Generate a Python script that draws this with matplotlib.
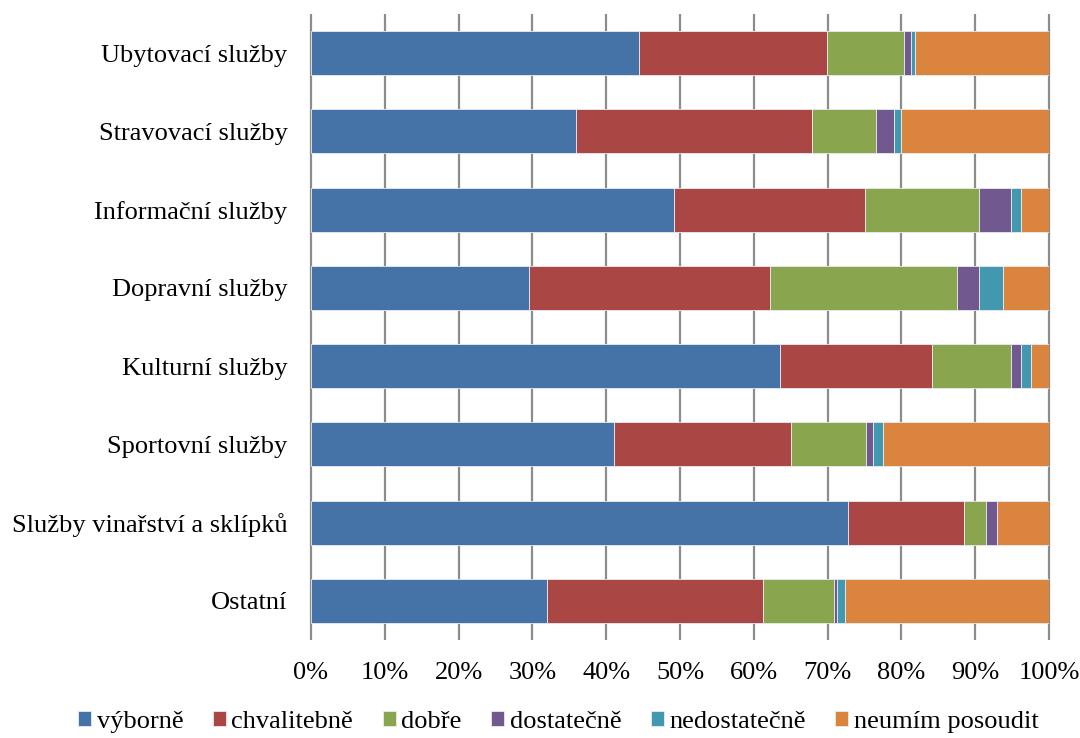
import numpy as np
import matplotlib.pyplot as plt

plt.rcParams['font.family'] = ['Liberation Serif', 'DejaVu Serif']

# Hodnocení služeb (podíl odpovědí v %)
kategorie = ['Ubytovací služby', 'Stravovací služby', 'Informační služby',
             'Dopravní služby', 'Kulturní služby', 'Sportovní služby',
             'Služby vinařství a sklípků', 'Ostatní']

vyborne = [44.5, 35.9, 49.2, 29.6, 63.6, 41.1, 72.7, 32.0]
chvalitebne = [25.4, 32.0, 25.9, 32.6, 20.6, 24.0, 15.8, 29.2]
dobre = [10.5, 8.7, 15.4, 25.4, 10.6, 10.1, 2.9, 9.7]
dostatecne = [0.9, 2.4, 4.3, 2.9, 1.4, 0.9, 1.5, 0.4]
nedostatecne = [0.5, 0.9, 1.4, 3.3, 1.4, 1.4, 0.0, 1.0]
neumim = [18.2, 20.1, 3.8, 6.2, 2.4, 22.5, 7.1, 27.7]

serie = [vyborne, chvalitebne, dobre, dostatecne, nedostatecne, neumim]
nazvy = ['výborně', 'chvalitebně', 'dobře', 'dostatečně', 'nedostatečně',
         'neumím posoudit']
barvy = ['#4572A7', '#AA4643', '#89A54E', '#71588F', '#4198AF', '#DB843D']

fig = plt.figure(figsize=(10.8, 7.38), dpi=100)
ax = fig.add_axes([311 / 1080, 1 - 640 / 738, 738 / 1080, 626 / 738])

y = np.arange(len(kategorie))
vlevo = np.zeros(len(kategorie))
for hodnoty, nazev, barva in zip(serie, nazvy, barvy):
    hodnoty = np.array(hodnoty)
    ax.barh(y, hodnoty, left=vlevo, height=0.56, color=barva, label=nazev,
            edgecolor='#e8ecf2', linewidth=0.6, zorder=2)
    vlevo += hodnoty

# svislá mřížka po 10 %
ticks = np.arange(0, 101, 10)
ax.vlines(ticks, 0, 1, transform=ax.get_xaxis_transform(), colors='#8c8c8c',
          linewidth=1.6, zorder=1, clip_on=False)

ax.set_xlim(0, 100)
ax.set_ylim(len(kategorie) - 0.5, -0.5)
ax.set_xticks(ticks)
ax.set_xticklabels([f'{t}%' for t in ticks])
ax.set_yticks(y)
ax.set_yticklabels(kategorie)
ax.tick_params(axis='both', length=0, labelsize=19, colors='black')
ax.tick_params(axis='x', pad=16)
ax.tick_params(axis='y', pad=17)
for s in ax.spines.values():
    s.set_visible(False)

fig.legend(loc='center', bbox_to_anchor=(0.517, 1 - 722 / 738), ncol=6,
           frameon=False, fontsize=19, handlelength=0.5, handleheight=0.5,
           handletextpad=0.2, columnspacing=1.12, borderaxespad=0)

fig.savefig('out.png', dpi=100)
